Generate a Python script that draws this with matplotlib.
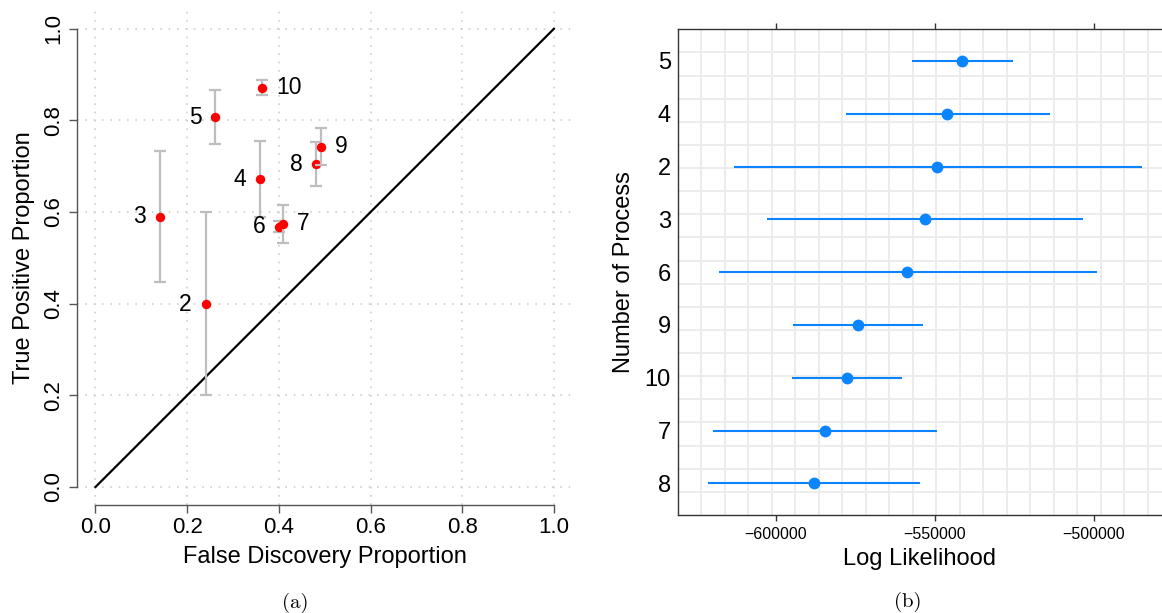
import numpy as np
import matplotlib
matplotlib.use("Agg")
import matplotlib.pyplot as plt

plt.rcParams['font.family'] = ['Liberation Sans', 'DejaVu Sans']

# panel (a): FDP / TPP per number of processes
procs_a = ['2', '3', '4', '5', '6', '7', '8', '9', '10']
fdp = [0.240, 0.141, 0.359, 0.2615, 0.401, 0.409, 0.482, 0.4915, 0.363]
tpp = [0.399, 0.590, 0.672, 0.8065, 0.568, 0.574, 0.704, 0.743, 0.871]
tpp_lo = [0.200, 0.448, 0.590, 0.748, 0.556, 0.532, 0.656, 0.703, 0.855]
tpp_hi = [0.601, 0.734, 0.755, 0.867, 0.580, 0.616, 0.752, 0.783, 0.888]
label_side = ['left', 'left', 'left', 'left', 'left', 'right', 'left', 'right', 'right']

# panel (b): log likelihood per number of processes (top to bottom)
procs_b = ['5', '4', '2', '3', '6', '9', '10', '7', '8']
loglik = [-541330, -546060, -549210, -553040, -558560, -574100, -577700, -584460, -587950]
loglik_lo = [-557200, -577820, -613060, -602590, -617900, -594370, -594700, -619600, -621280]
loglik_hi = [-525450, -513850, -484910, -503380, -498870, -553830, -560250, -549210, -554620]

fig = plt.figure(figsize=(11.62, 6.13), dpi=100)

# ---------------- (a) ----------------
ax1 = fig.add_axes([0.0664, 0.1757, 0.4261, 0.8073])
ax1.set_xlim(-0.04, 1.04)
ax1.set_ylim(-0.04, 1.04)
ticks = np.arange(0, 1.01, 0.2)
for t in ticks:
    ax1.axvline(t, color='#d0d0d0', lw=1.2, ls=(0, (1, 4)), zorder=0)
    ax1.axhline(t, color='#d0d0d0', lw=1.2, ls=(0, (1, 4)), zorder=0)
ax1.plot([0, 1], [0, 1], color='black', lw=1.6, zorder=1)

for i in range(len(procs_a)):
    ax1.errorbar(fdp[i], tpp[i], yerr=[[tpp[i] - tpp_lo[i]], [tpp_hi[i] - tpp[i]]],
                 fmt='none', ecolor='#bebebe', elinewidth=1.6, capsize=4.5,
                 capthick=1.6, zorder=2 + 2 * i)
    ax1.plot(fdp[i], tpp[i], 'o', color='red', ms=6.8, mec='none', zorder=3 + 2 * i)
    if label_side[i] == 'left':
        off, ha = -10, 'right'
    else:
        off, ha = 10, 'left'
    ax1.annotate(procs_a[i], (fdp[i], tpp[i]), xytext=(off, 0), textcoords='offset points',
                 ha=ha, va='center', fontsize=16.5, zorder=30)

for s in ['top', 'right']:
    ax1.spines[s].set_visible(False)
for s in ['left', 'bottom']:
    ax1.spines[s].set_bounds(0, 1)
    ax1.spines[s].set_color('#555555')
    ax1.spines[s].set_linewidth(1.0)
ax1.set_xticks(ticks)
ax1.set_yticks(ticks)
ax1.set_xticklabels(['%.1f' % t for t in ticks])
ax1.set_yticklabels(['%.1f' % t for t in ticks], rotation=90, va='center')
ax1.tick_params(axis='both', direction='out', length=5.5, width=1.0, color='#555555',
                labelsize=16)
ax1.tick_params(axis='x', pad=3)
ax1.tick_params(axis='y', pad=4)
ax1.set_xlabel('False Discovery Proportion', fontsize=17, labelpad=6)
ax1.set_ylabel('True Positive Proportion', fontsize=17, labelpad=6)

# ---------------- (b) ----------------
ax2 = fig.add_axes([0.5833, 0.1599, 1.0 - 0.5833, 0.7923])
xmin, xmax = -630700, -478600
ax2.set_xlim(xmin, xmax)
ax2.set_ylim(0.4, len(procs_b) + 0.6)
ypos = np.arange(len(procs_b), 0, -1)

# graph-paper style background grid
for gx in np.arange(xmin + 7380, xmax, 7380):
    ax2.axvline(gx, color='#ebebeb', lw=1.3, zorder=0)
for gy in np.linspace(0.4, len(procs_b) + 0.6, 22)[1:-1]:
    ax2.axhline(gy, color='#ebebeb', lw=1.3, zorder=0)

ax2.hlines(ypos, loglik_lo, loglik_hi, color='#0a84ff', lw=1.5, zorder=2)
ax2.plot(loglik, ypos, 'o', color='#0a84ff', ms=8.5, mec='none', zorder=3)

ax2.set_yticks(ypos)
ax2.set_yticklabels(procs_b)
ax2.set_xticks([-600000, -550000, -500000])
ax2.set_xticklabels(['\u2212600000', '\u2212550000', '\u2212500000'])
ax2.tick_params(axis='y', length=0, pad=5, labelsize=17)
ax2.tick_params(axis='x', length=4, width=1.0, color='#333333', labelsize=11.5, pad=5,
                top=True)
ax2.spines['right'].set_visible(False)
for s in ['left', 'bottom', 'top']:
    ax2.spines[s].set_color('#333333')
    ax2.spines[s].set_linewidth(1.0)
ax2.set_xlabel('Log Likelihood', fontsize=17, labelpad=4)
ax2.set_ylabel('Number of Process', fontsize=17, labelpad=7)

fig.text(295 / 1162, 1 - 603 / 613, '(a)', fontfamily='cmr10', fontsize=15,
         ha='center', va='center')
fig.text(908 / 1162, 1 - 602 / 613, '(b)', fontfamily='cmr10', fontsize=15,
         ha='center', va='center')

fig.savefig('out.png', dpi=100)
